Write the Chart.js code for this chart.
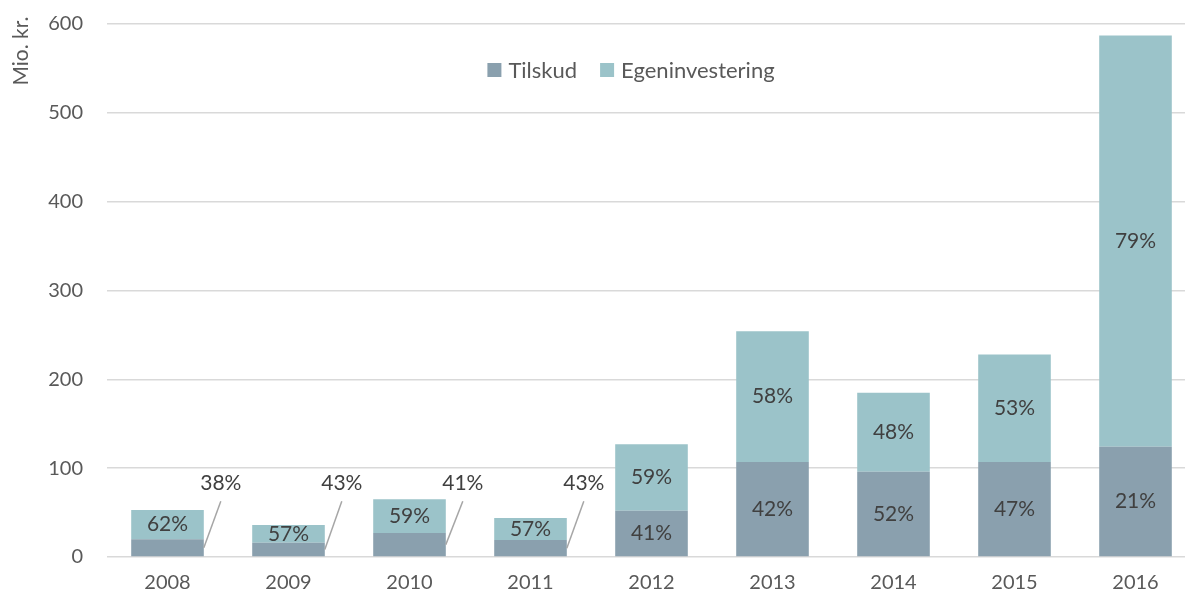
<!DOCTYPE html>
<html>
<head>
<meta charset="utf-8">
<script src="https://cdn.jsdelivr.net/npm/chart.js@4"></script>
<style>
  html, body { margin: 0; padding: 0; overflow: hidden; background: #fff; }
  #wrap { width: 1196px; height: 596px; }
</style>
</head>
<body>
<div id="wrap"><canvas id="chart"></canvas></div>
<script>
const years = ["2008", "2009", "2010", "2011", "2012", "2013", "2014", "2015", "2016"];
const tilskud = [20, 16, 27, 19, 52, 107, 96, 107, 124];
const egeninvestering = [33, 20, 38, 25, 75, 147, 89, 121, 463];
const tilskudPct = ["38%", "43%", "41%", "43%", "41%", "42%", "52%", "47%", "21%"];
const egenPct = ["62%", "57%", "59%", "57%", "59%", "58%", "48%", "53%", "79%"];
// Tilskud-labels der står udenfor søjlen med en streg
const udenfor = [true, true, true, true, false, false, false, false, false];
const yTicks = [0, 100, 200, 300, 400, 500, 600];
const yTitle = "Mio. kr.";

const FONT = "Lato, 'DejaVu Sans', sans-serif";

const labelPlugin = {
  id: "labels",
  afterDatasetsDraw(chart) {
    const ctx = chart.ctx;
    const y = chart.scales.y;
    const m0 = chart.getDatasetMeta(0);
    const m1 = chart.getDatasetMeta(1);
    ctx.save();
    ctx.font = "21px " + FONT;
    ctx.fillStyle = "#404040";
    ctx.textAlign = "center";
    ctx.textBaseline = "middle";
    years.forEach((yr, i) => {
      const b0 = m0.data[i], b1 = m1.data[i];
      ctx.fillText(egenPct[i], b1.x, (b1.y + b1.base) / 2);
      if (udenfor[i]) {
        const right = b0.x + b0.width / 2;
        const lx = right + 17;
        const ly = y.getPixelForValue(83);
        ctx.strokeStyle = "#a6a6a6";
        ctx.lineWidth = 1.5;
        ctx.beginPath();
        ctx.moveTo(right, (b0.y + b0.base) / 2);
        ctx.lineTo(lx, ly + 18);
        ctx.stroke();
        ctx.fillText(tilskudPct[i], lx, ly);
      } else {
        ctx.fillText(tilskudPct[i], b0.x, (b0.y + b0.base) / 2);
      }
    });
    ctx.restore();
  }
};

const legendPlugin = {
  id: "customLegend",
  afterDraw(chart) {
    const ctx = chart.ctx;
    ctx.save();
    ctx.font = "22px " + FONT;
    ctx.textBaseline = "middle";
    ctx.textAlign = "left";
    const items = chart.data.datasets;
    const box = 14, gap = 7, between = 23;
    let total = 0;
    items.forEach((d, i) => {
      total += box + gap + ctx.measureText(d.label).width + (i < items.length - 1 ? between : 0);
    });
    let x = 631 - total / 2;
    const cy = 70;
    items.forEach(d => {
      ctx.fillStyle = d.backgroundColor;
      ctx.fillRect(x, cy - box / 2, box, box);
      x += box + gap;
      ctx.fillStyle = "#595959";
      ctx.fillText(d.label, x, cy + 1);
      x += ctx.measureText(d.label).width + between;
    });
    // y-aksens titel
    ctx.font = "21px " + FONT;
    ctx.translate(21, 51);
    ctx.rotate(-Math.PI / 2);
    ctx.textAlign = "center";
    ctx.fillText(yTitle, 0, 0);
    ctx.restore();
  }
};

new Chart(document.getElementById("chart"), {
  type: "bar",
  data: {
    labels: years,
    datasets: [
      { label: "Tilskud", data: tilskud, backgroundColor: "#8AA0AE" },
      { label: "Egeninvestering", data: egeninvestering, backgroundColor: "#9BC3C9" }
    ]
  },
  options: {
    responsive: true,
    maintainAspectRatio: false,
    animation: false,
    events: [],
    layout: { padding: { top: 24, left: 0, right: 0, bottom: 0 } },
    datasets: { bar: { categoryPercentage: 1, barPercentage: 0.6 } },
    plugins: { legend: { display: false }, tooltip: { enabled: false } },
    scales: {
      x: {
        stacked: true,
        grid: { display: false, drawTicks: false },
        border: { display: false },
        ticks: { color: "#595959", font: { family: FONT, size: 20 }, padding: 14 },
        afterFit(s) { s.height = 39; s.paddingLeft = 0; s.paddingRight = 0; }
      },
      y: {
        stacked: true,
        min: 0,
        max: 600,
        afterBuildTicks(s) { s.ticks = yTicks.map(v => ({ value: v })); },
        grid: { color: "#d9d9d9", lineWidth: 1.5, drawTicks: false },
        border: { display: false },
        ticks: { color: "#595959", font: { family: FONT, size: 20 }, padding: 24 },
        afterFit(s) { s.width = 107; s.paddingTop = 0; s.paddingBottom = 0; }
      }
    }
  },
  plugins: [labelPlugin, legendPlugin]
});
</script>
</body>
</html>
